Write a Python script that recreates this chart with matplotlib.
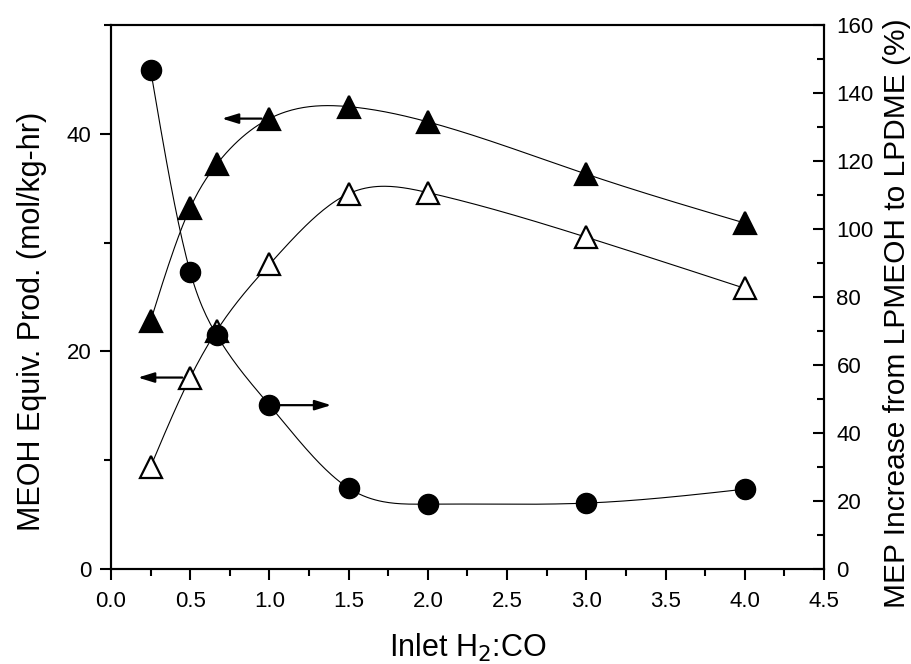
import numpy as np
import matplotlib.pyplot as plt
from matplotlib.ticker import MultipleLocator, FormatStrFormatter

plt.rcParams['font.family'] = ['Liberation Sans', 'DejaVu Sans']

# inlet H2:CO ratio
ratio = [0.25, 0.5, 0.667, 1.0, 1.5, 2.0, 3.0, 4.0]
# MEOH equivalent productivity (mol/kg-hr), left axis
prod_lpdme = [22.8, 33.2, 37.2, 41.4, 42.5, 41.1, 36.3, 31.8]
prod_lpmeoh = [9.4, 17.6, 21.9, 28.0, 34.5, 34.6, 30.5, 25.8]
# MEP increase (%), right axis
mep_increase = [146.8, 87.4, 68.8, 48.2, 23.8, 19.1, 19.4, 23.5]


def natural_spline(x, y, n=300):
    x = np.asarray(x, float)
    y = np.asarray(y, float)
    k = len(x)
    h = np.diff(x)
    A = np.zeros((k, k))
    b = np.zeros(k)
    A[0, 0] = A[-1, -1] = 1.0
    for i in range(1, k - 1):
        A[i, i - 1] = h[i - 1]
        A[i, i] = 2 * (h[i - 1] + h[i])
        A[i, i + 1] = h[i]
        b[i] = 6 * ((y[i + 1] - y[i]) / h[i] - (y[i] - y[i - 1]) / h[i - 1])
    M = np.linalg.solve(A, b)
    xs = np.linspace(x[0], x[-1], n)
    idx = np.clip(np.searchsorted(x, xs) - 1, 0, k - 2)
    x0, x1 = x[idx], x[idx + 1]
    hh = x1 - x0
    t0, t1 = x1 - xs, xs - x0
    ys = (M[idx] * t0 ** 3 + M[idx + 1] * t1 ** 3) / (6 * hh) \
        + (y[idx] / hh - M[idx] * hh / 6) * t0 \
        + (y[idx + 1] / hh - M[idx + 1] * hh / 6) * t1
    return xs, ys


fig = plt.figure(figsize=(9.12, 6.64), dpi=100)
ax = fig.add_axes([0.1217, 0.143, 0.7818, 0.8193])
ax2 = ax.twinx()

lw = 0.8
for vals, face in [(prod_lpdme, 'black'), (prod_lpmeoh, 'white')]:
    xs, ys = natural_spline(ratio, vals)
    ax.plot(xs, ys, color='black', lw=lw, zorder=2)
    ax.plot(ratio, vals, ls='none', marker='^', ms=16, mfc=face,
            mec='black', mew=1.6, zorder=3)

xs, ys = natural_spline(ratio, mep_increase)
ax2.plot(xs, ys, color='black', lw=lw, zorder=2)
ax2.plot(ratio, mep_increase, ls='none', marker='o', ms=14.5,
         mfc='black', mec='black', zorder=3)

arrow = dict(arrowstyle='-|>,head_length=0.65,head_width=0.2', color='black',
             lw=1.6, mutation_scale=15, shrinkA=0, shrinkB=0)
ax.annotate('', xy=(0.70, prod_lpdme[3]), xytext=(0.95, prod_lpdme[3]),
            arrowprops=arrow, zorder=4)
ax.annotate('', xy=(0.17, prod_lpmeoh[1]), xytext=(0.45, prod_lpmeoh[1]),
            arrowprops=arrow, zorder=4)
ax2.annotate('', xy=(1.39, mep_increase[3]), xytext=(1.05, mep_increase[3]),
             arrowprops=arrow, zorder=4)

ax.set_xlim(0, 4.5)
ax.set_ylim(0, 50)
ax2.set_ylim(0, 160)

ax.xaxis.set_major_locator(MultipleLocator(0.5))
ax.xaxis.set_minor_locator(MultipleLocator(0.25))
ax.xaxis.set_major_formatter(FormatStrFormatter('%.1f'))
ax.yaxis.set_major_locator(MultipleLocator(20))
ax.yaxis.set_minor_locator(MultipleLocator(10))
ax2.yaxis.set_major_locator(MultipleLocator(20))
ax2.yaxis.set_minor_locator(MultipleLocator(10))

for a in (ax, ax2):
    for s in a.spines.values():
        s.set_linewidth(1.5)

ax.tick_params(axis='x', which='major', direction='out', length=8, width=1.5,
               labelsize=16, pad=8, top=False)
ax.tick_params(axis='x', which='minor', direction='out', length=5, width=1.5, top=False)
ax.tick_params(axis='y', which='major', direction='out', length=8, width=1.5,
               labelsize=16, pad=6, right=False)
ax.tick_params(axis='y', which='minor', direction='out', length=5, width=1.5, right=False)
ax2.tick_params(axis='y', which='major', direction='in', length=8, width=1.5,
                labelsize=16, pad=9)
ax2.tick_params(axis='y', which='minor', direction='in', length=5, width=1.5)

ax.set_xlabel('Inlet H$_2$:CO', fontsize=22, labelpad=14)
ax.set_ylabel('MEOH Equiv. Prod. (mol/kg-hr)', fontsize=22, labelpad=14)
ax2.set_ylabel('MEP Increase from LPMEOH to LPDME (%)', fontsize=21.5, labelpad=7)
ax.yaxis.label.set_y(0.455)
ax2.yaxis.label.set_y(0.47)

fig.savefig('out.png', dpi=100)
